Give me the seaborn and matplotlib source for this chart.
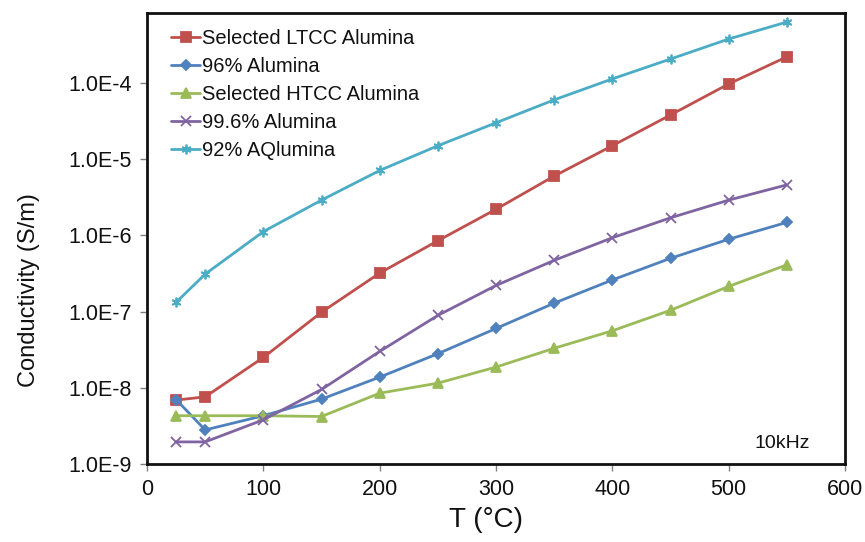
import numpy as np
import pandas as pd
import matplotlib
matplotlib.use("Agg")
import matplotlib.pyplot as plt
import matplotlib.ticker as mticker
import seaborn as sns

temps = [25, 50, 100, 150, 200, 250, 300, 350, 400, 450, 500, 550]
ltcc = [6.9e-9, 7.6e-9, 2.5e-8, 9.8e-8, 3.2e-7, 8.5e-7, 2.2e-6, 6.0e-6, 1.5e-5, 3.8e-5, 9.7e-5, 2.2e-4]
al96 = [7.0e-9, 2.8e-9, 4.3e-9, 7.1e-9, 1.38e-8, 2.8e-8, 6.0e-8, 1.29e-7, 2.6e-7, 5.0e-7, 8.9e-7, 1.48e-6]
htcc = [4.3e-9, 4.3e-9, 4.3e-9, 4.2e-9, 8.5e-9, 1.15e-8, 1.87e-8, 3.3e-8, 5.6e-8, 1.04e-7, 2.14e-7, 4.1e-7]
al996 = [1.95e-9, 1.95e-9, 3.8e-9, 9.5e-9, 3.0e-8, 8.9e-8, 2.2e-7, 4.7e-7, 9.3e-7, 1.7e-6, 2.9e-6, 4.6e-6]
al92 = [1.32e-7, 3.1e-7, 1.12e-6, 2.9e-6, 7.1e-6, 1.5e-5, 3.0e-5, 6.0e-5, 1.13e-4, 2.06e-4, 3.77e-4, 6.3e-4]

series_names = ["Selected LTCC Alumina", "96% Alumina", "Selected HTCC Alumina",
                "99.6% Alumina", "92% AQlumina"]
series_values = [ltcc, al96, htcc, al996, al92]
colors = ["#C0504D", "#4F81BD", "#9BBB59", "#8064A2", "#4BACC6"]
markers = ["s", "D", "^", "x", (6, 2, 0)]
msizes = [7, 5, 7, 7, 7]
x_ticks = [0, 100, 200, 300, 400, 500, 600]
y_ticks = [1e-9, 1e-8, 1e-7, 1e-6, 1e-5, 1e-4]

sns.set_style("white")
plt.rcParams["font.family"] = ["Liberation Sans", "DejaVu Sans"]
plt.rcParams["text.color"] = "#111111"
plt.rcParams["axes.labelcolor"] = "#111111"
plt.rcParams["xtick.labelcolor"] = "#111111"
plt.rcParams["ytick.labelcolor"] = "#111111"

fig = plt.figure(figsize=(8.65, 5.42), dpi=100)
# axes: x 147..845 px, y 12.5..464 px
ax = fig.add_axes([147 / 865, 1 - 464 / 542, 698 / 865, 451.5 / 542])

for name, vals, c, m, ms in zip(series_names, series_values, colors, markers, msizes):
    df = pd.DataFrame({"T": temps, "sigma": vals})
    sns.lineplot(data=df, x="T", y="sigma", ax=ax, color=c, marker=m,
                 markersize=ms, linewidth=2, label=name, sort=False,
                 markeredgecolor=c, markeredgewidth=1.3)

ax.set_yscale("log")
ax.set_xlim(0, 600)
ax.set_ylim(1e-9, 8.4e-4)
ax.set_xticks(x_ticks)
ax.set_yticks(y_ticks)
ax.yaxis.set_minor_locator(mticker.NullLocator())
ax.yaxis.set_major_formatter(mticker.FuncFormatter(
    lambda v, p: "1.0E{:d}".format(int(round(np.log10(v))))))
ax.tick_params(axis="y", labelsize=15.5, length=5, width=1, color="#808080",
               direction="out", left=True, pad=6)
ax.tick_params(axis="x", labelsize=15.5, length=5, width=1, color="#808080",
               direction="out", bottom=True, pad=6)

for s in ax.spines.values():
    s.set_color("#111111")
    s.set_linewidth(2)

ax.set_xlabel("T (°C)", fontsize=20)
ax.set_ylabel("Conductivity (S/m)", fontsize=17)
ax.xaxis.set_label_coords(0.486, -0.095)
ax.yaxis.set_label_coords(-0.153, 0.385)

ax.text(0.871, 0.046, "10kHz", transform=ax.transAxes, fontsize=14,
        ha="left", va="center")

ax.legend(loc="upper left", bbox_to_anchor=(0.035, 0.963), frameon=False,
          fontsize=14.5, handlelength=1.4, handletextpad=0.1,
          labelspacing=0.45, borderpad=0, borderaxespad=0)

fig.savefig("out.png", dpi=100)
